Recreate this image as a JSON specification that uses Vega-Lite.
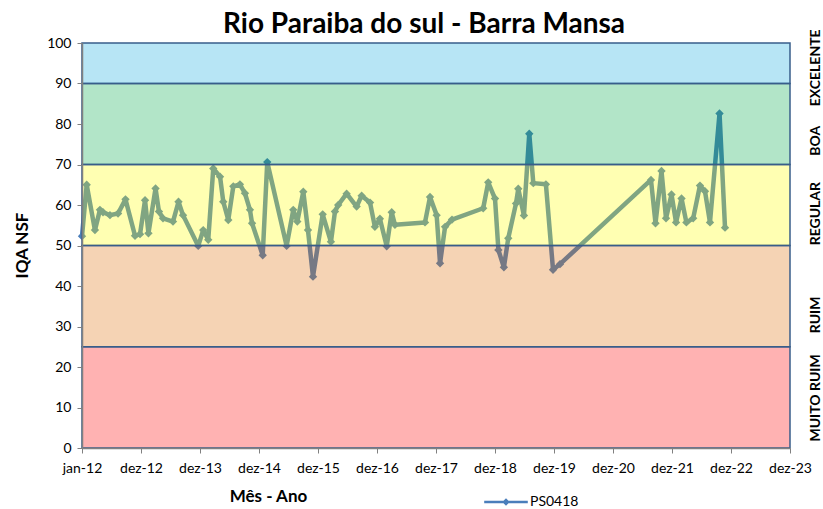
{
  "$schema": "https://vega.github.io/schema/vega-lite/v6.json",
  "autosize": {"type": "none"},
  "width": 708,
  "height": 405,
  "padding": {"left": 82, "top": 43, "right": 33, "bottom": 61},
  "background": "white",
  "config": {
    "font": "Lato",
    "view": {"stroke": null},
    "axis": {"labelFont": "Lato", "titleFont": "Lato", "labelColor": "#000000", "titleColor": "#000000"}
  },
  "title": {
    "text": "Rio Paraiba do sul - Barra Mansa",
    "fontSize": 28,
    "fontWeight": "bold",
    "font": "Lato",
    "color": "#000000",
    "frame": "group",
    "anchor": "middle",
    "dx": -12,
    "dy": 20,
    "offset": 10
  },
  "datasets": {
    "iqa": [
      {"data": "2012-01-01", "iqa": 52.3, "estacao": "PS0418"},
      {"data": "2012-01-30", "iqa": 65.0, "estacao": "PS0418"},
      {"data": "2012-03-21", "iqa": 53.8, "estacao": "PS0418"},
      {"data": "2012-04-21", "iqa": 58.8, "estacao": "PS0418"},
      {"data": "2012-05-10", "iqa": 58.2, "estacao": "PS0418"},
      {"data": "2012-06-22", "iqa": 57.5, "estacao": "PS0418"},
      {"data": "2012-08-11", "iqa": 57.9, "estacao": "PS0418"},
      {"data": "2012-09-26", "iqa": 61.4, "estacao": "PS0418"},
      {"data": "2012-11-24", "iqa": 52.4, "estacao": "PS0418"},
      {"data": "2012-12-25", "iqa": 52.8, "estacao": "PS0418"},
      {"data": "2013-01-25", "iqa": 61.2, "estacao": "PS0418"},
      {"data": "2013-02-15", "iqa": 53.0, "estacao": "PS0418"},
      {"data": "2013-03-31", "iqa": 64.1, "estacao": "PS0418"},
      {"data": "2013-04-21", "iqa": 58.4, "estacao": "PS0418"},
      {"data": "2013-05-16", "iqa": 56.7, "estacao": "PS0418"},
      {"data": "2013-07-17", "iqa": 55.9, "estacao": "PS0418"},
      {"data": "2013-08-20", "iqa": 60.8, "estacao": "PS0418"},
      {"data": "2013-09-17", "iqa": 57.5, "estacao": "PS0418"},
      {"data": "2013-12-20", "iqa": 49.9, "estacao": "PS0418"},
      {"data": "2014-01-20", "iqa": 53.8, "estacao": "PS0418"},
      {"data": "2014-02-20", "iqa": 51.4, "estacao": "PS0418"},
      {"data": "2014-03-23", "iqa": 69.0, "estacao": "PS0418"},
      {"data": "2014-05-04", "iqa": 67.0, "estacao": "PS0418"},
      {"data": "2014-05-24", "iqa": 60.8, "estacao": "PS0418"},
      {"data": "2014-06-24", "iqa": 56.3, "estacao": "PS0418"},
      {"data": "2014-07-25", "iqa": 64.6, "estacao": "PS0418"},
      {"data": "2014-09-04", "iqa": 65.1, "estacao": "PS0418"},
      {"data": "2014-10-05", "iqa": 62.9, "estacao": "PS0418"},
      {"data": "2014-11-05", "iqa": 58.8, "estacao": "PS0418"},
      {"data": "2014-11-18", "iqa": 55.5, "estacao": "PS0418"},
      {"data": "2015-01-23", "iqa": 47.6, "estacao": "PS0418"},
      {"data": "2015-02-20", "iqa": 70.6, "estacao": "PS0418"},
      {"data": "2015-06-20", "iqa": 49.9, "estacao": "PS0418"},
      {"data": "2015-07-31", "iqa": 58.8, "estacao": "PS0418"},
      {"data": "2015-08-25", "iqa": 55.9, "estacao": "PS0418"},
      {"data": "2015-10-01", "iqa": 63.3, "estacao": "PS0418"},
      {"data": "2015-10-30", "iqa": 53.8, "estacao": "PS0418"},
      {"data": "2015-11-30", "iqa": 42.3, "estacao": "PS0418"},
      {"data": "2016-01-29", "iqa": 57.7, "estacao": "PS0418"},
      {"data": "2016-03-20", "iqa": 50.9, "estacao": "PS0418"},
      {"data": "2016-04-14", "iqa": 58.4, "estacao": "PS0418"},
      {"data": "2016-05-04", "iqa": 60.0, "estacao": "PS0418"},
      {"data": "2016-06-25", "iqa": 62.8, "estacao": "PS0418"},
      {"data": "2016-08-26", "iqa": 59.6, "estacao": "PS0418"},
      {"data": "2016-09-26", "iqa": 62.3, "estacao": "PS0418"},
      {"data": "2016-11-17", "iqa": 60.6, "estacao": "PS0418"},
      {"data": "2016-12-17", "iqa": 54.6, "estacao": "PS0418"},
      {"data": "2017-01-17", "iqa": 56.6, "estacao": "PS0418"},
      {"data": "2017-02-28", "iqa": 49.8, "estacao": "PS0418"},
      {"data": "2017-03-31", "iqa": 58.2, "estacao": "PS0418"},
      {"data": "2017-04-20", "iqa": 55.1, "estacao": "PS0418"},
      {"data": "2017-10-23", "iqa": 55.7, "estacao": "PS0418"},
      {"data": "2017-11-23", "iqa": 62.0, "estacao": "PS0418"},
      {"data": "2018-01-03", "iqa": 57.5, "estacao": "PS0418"},
      {"data": "2018-01-24", "iqa": 45.6, "estacao": "PS0418"},
      {"data": "2018-02-24", "iqa": 54.6, "estacao": "PS0418"},
      {"data": "2018-04-08", "iqa": 56.4, "estacao": "PS0418"},
      {"data": "2018-10-18", "iqa": 59.2, "estacao": "PS0418"},
      {"data": "2018-11-18", "iqa": 65.6, "estacao": "PS0418"},
      {"data": "2018-12-30", "iqa": 61.6, "estacao": "PS0418"},
      {"data": "2019-01-20", "iqa": 48.9, "estacao": "PS0418"},
      {"data": "2019-02-23", "iqa": 44.6, "estacao": "PS0418"},
      {"data": "2019-03-22", "iqa": 51.8, "estacao": "PS0418"},
      {"data": "2019-05-09", "iqa": 60.4, "estacao": "PS0418"},
      {"data": "2019-05-23", "iqa": 64.0, "estacao": "PS0418"},
      {"data": "2019-06-27", "iqa": 57.4, "estacao": "PS0418"},
      {"data": "2019-07-30", "iqa": 77.6, "estacao": "PS0418"},
      {"data": "2019-08-24", "iqa": 65.4, "estacao": "PS0418"},
      {"data": "2019-11-10", "iqa": 65.1, "estacao": "PS0418"},
      {"data": "2019-12-24", "iqa": 44.0, "estacao": "PS0418"},
      {"data": "2020-02-05", "iqa": 45.4, "estacao": "PS0418"},
      {"data": "2021-08-21", "iqa": 66.2, "estacao": "PS0418"},
      {"data": "2021-09-18", "iqa": 55.5, "estacao": "PS0418"},
      {"data": "2021-10-25", "iqa": 68.4, "estacao": "PS0418"},
      {"data": "2021-11-22", "iqa": 56.7, "estacao": "PS0418"},
      {"data": "2021-12-26", "iqa": 62.6, "estacao": "PS0418"},
      {"data": "2022-01-23", "iqa": 55.7, "estacao": "PS0418"},
      {"data": "2022-02-26", "iqa": 61.6, "estacao": "PS0418"},
      {"data": "2022-03-28", "iqa": 55.7, "estacao": "PS0418"},
      {"data": "2022-05-09", "iqa": 56.7, "estacao": "PS0418"},
      {"data": "2022-06-20", "iqa": 64.8, "estacao": "PS0418"},
      {"data": "2022-07-21", "iqa": 63.4, "estacao": "PS0418"},
      {"data": "2022-08-21", "iqa": 55.7, "estacao": "PS0418"},
      {"data": "2022-10-19", "iqa": 82.6, "estacao": "PS0418"},
      {"data": "2022-11-22", "iqa": 54.4, "estacao": "PS0418"}
    ],
    "faixas": [
      {"classe": "MUITO RUIM", "min": 0, "max": 25},
      {"classe": "RUIM", "min": 25, "max": 50},
      {"classe": "REGULAR", "min": 50, "max": 70},
      {"classe": "BOA", "min": 70, "max": 90},
      {"classe": "EXCELENTE", "min": 90, "max": 100}
    ]
  },
  "layer": [
    {
      "data": {"name": "iqa"},
      "mark": {
        "type": "line",
        "strokeWidth": 4.5,
        "strokeJoin": "round",
        "interpolate": "linear",
        "point": {"shape": "diamond", "size": 70, "filled": true, "opacity": 1},
        "clip": false
      },
      "encoding": {
        "x": {
          "field": "data",
          "type": "temporal",
          "scale": {"type": "utc", "domain": [{"year": 2012, "month": 1, "date": 1, "utc": true}, {"year": 2023, "month": 12, "date": 29, "utc": true}], "nice": false},
          "axis": {
            "values": [
              {"year": 2012, "month": 1, "date": 1, "utc": true},
              {"year": 2012, "month": 12, "date": 31, "utc": true},
              {"year": 2013, "month": 12, "date": 31, "utc": true},
              {"year": 2014, "month": 12, "date": 31, "utc": true},
              {"year": 2015, "month": 12, "date": 31, "utc": true},
              {"year": 2016, "month": 12, "date": 30, "utc": true},
              {"year": 2017, "month": 12, "date": 30, "utc": true},
              {"year": 2018, "month": 12, "date": 30, "utc": true},
              {"year": 2019, "month": 12, "date": 30, "utc": true},
              {"year": 2020, "month": 12, "date": 29, "utc": true},
              {"year": 2021, "month": 12, "date": 29, "utc": true},
              {"year": 2022, "month": 12, "date": 29, "utc": true},
              {"year": 2023, "month": 12, "date": 29, "utc": true}
            ],
            "labelExpr": "(utcmonth(datum.value) == 0 ? 'jan' : 'dez') + '-' + utcFormat(datum.value, '%y')",
            "labelFontSize": 14,
            "labelPadding": 8,
            "labelFlush": false,
            "labelOverlap": false,
            "grid": false,
            "tickSize": 5,
            "tickColor": "#808080",
            "domainColor": "#808080",
            "domainWidth": 1.5,
            "zindex": 1,
            "title": "Mês - Ano",
            "titleFontSize": 17,
            "titleFontWeight": "bold",
            "titleX": 186,
            "titleY": 48,
            "titleAlign": "center",
            "titleBaseline": "middle"
          }
        },
        "y": {
          "field": "iqa",
          "type": "quantitative",
          "scale": {"domain": [0, 100], "nice": false},
          "axis": {
            "values": [0, 10, 20, 30, 40, 50, 60, 70, 80, 90, 100],
            "labelFontSize": 14,
            "labelPadding": 6,
            "grid": false,
            "tickSize": 5,
            "tickColor": "#808080",
            "domainColor": "#808080",
            "domainWidth": 1.5,
            "zindex": 1,
            "title": "IQA NSF",
            "titleFontSize": 17,
            "titleFontWeight": "bold",
            "titleAngle": -90,
            "titleX": -60,
            "titleY": 202,
            "titleAlign": "center",
            "titleBaseline": "middle"
          }
        },
        "color": {
          "field": "estacao",
          "type": "nominal",
          "scale": {"domain": ["PS0418"], "range": ["#4A7EBB"]},
          "legend": {
            "title": null,
            "orient": "none",
            "legendX": 402,
            "legendY": 437,
            "symbolType": "M-1,-0.06H1V0.06H-1Z M0,-0.17L0.17,0L0,0.17L-0.17,0Z",
            "symbolSize": 1900,
            "symbolStrokeWidth": 0,
            "symbolOpacity": 1,
            "labelFontSize": 14,
            "labelFont": "Lato",
            "labelColor": "#000000",
            "labelOffset": 2
          }
        }
      }
    },
    {
      "data": {"name": "faixas"},
      "mark": {"type": "rect", "fillOpacity": 0.3, "stroke": "#385D8A", "strokeWidth": 1.5, "strokeOpacity": 1},
      "encoding": {
        "y": {
          "field": "min",
          "type": "quantitative",
          "scale": {"domain": [0, 100], "nice": false},
          "axis": {
            "orient": "right",
            "values": [12.5, 33, 58, 76, 94],
            "labelExpr": "datum.value == 94 ? 'EXCELENTE' : datum.value == 76 ? 'BOA' : datum.value == 58 ? 'REGULAR' : datum.value == 33 ? 'RUIM' : 'MUITO RUIM'",
            "labelAngle": -90,
            "labelAlign": "center",
            "labelBaseline": "middle",
            "labelFontSize": 14,
            "labelFontWeight": "bold",
            "labelPadding": 25,
            "labelOverlap": false,
            "labelFlush": false,
            "ticks": false,
            "domain": false,
            "grid": false,
            "title": null
          }
        },
        "y2": {"field": "max"},
        "fill": {
          "field": "classe",
          "type": "nominal",
          "scale": {
            "domain": ["MUITO RUIM", "RUIM", "REGULAR", "BOA", "EXCELENTE"],
            "range": ["#FF0000", "#DE6C05", "#FFFF00", "#00A848", "#0FA8DE"]
          },
          "legend": null
        }
      }
    }
  ],
  "resolve": {"scale": {"y": "independent", "fill": "independent", "color": "independent"}, "axis": {"y": "independent"}}
}
